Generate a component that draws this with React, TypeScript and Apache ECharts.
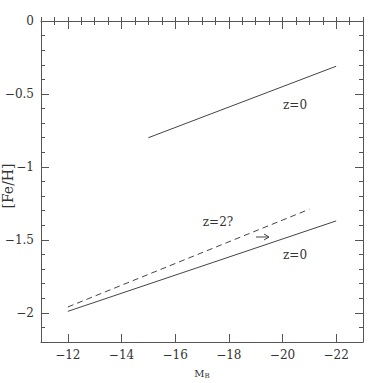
import React, { useEffect, useRef } from "react";
import * as echarts from "echarts";

const xMajor = [-12, -14, -16, -18, -20, -22];
const yMajor = [0, -0.5, -1, -1.5, -2];
const upperZ0 = [[-15, -0.8], [-22, -0.31]];
const lowerZ0 = [[-12, -1.99], [-22, -1.37]];
const z2 = [[-12, -1.96], [-21, -1.29]];

const FONT = "DejaVu Serif";
const AX = "#555";
const LINE = "#444";
const TXT = "#333";
const minus = (v: number) => (v < 0 ? "\u2212" + String(Math.abs(v)) : String(v));

export default function App() {
  const ref = useRef<HTMLDivElement>(null);
  useEffect(() => {
    const chart = echarts.init(ref.current!, null, { renderer: "svg" });
    const grid = { left: 41, right: 20, top: 21, bottom: 41, outerBoundsMode: "none", containLabel: false };
    const xBase = { type: "value", min: -23, max: -11, inverse: true, splitLine: { show: false } };
    const yBase = { type: "value", min: -2.2, max: 0, splitLine: { show: false } };
    chart.setOption({
      animation: false,
      backgroundColor: "#fff",
      grid,
      xAxis: [
        {
          ...xBase,
          position: "bottom",
          axisLine: { show: true, onZero: false, lineStyle: { color: AX, width: 1 } },
          axisTick: { show: true, inside: true, length: 8, customValues: xMajor, lineStyle: { color: AX } },
          axisLabel: { show: true, customValues: xMajor, formatter: (v: number) => minus(v), color: TXT, fontFamily: FONT, fontSize: 12, margin: 7 },
        },
        {
          ...xBase,
          position: "bottom",
          interval: 0.5,
          axisLine: { show: false },
          axisTick: { show: true, inside: true, length: 4, lineStyle: { color: AX } },
          axisLabel: { show: false },
        },
        {
          ...xBase,
          position: "top",
          axisLine: { show: true, onZero: false, lineStyle: { color: AX, width: 1 } },
          axisTick: { show: true, inside: true, length: 8, customValues: xMajor, lineStyle: { color: AX } },
          axisLabel: { show: false },
        },
        {
          ...xBase,
          position: "top",
          interval: 0.5,
          axisLine: { show: false },
          axisTick: { show: true, inside: true, length: 4, lineStyle: { color: AX } },
          axisLabel: { show: false },
        },
      ],
      yAxis: [
        {
          ...yBase,
          position: "left",
          axisLine: { show: true, onZero: false, lineStyle: { color: AX, width: 1 } },
          axisTick: { show: true, inside: true, length: 8, customValues: yMajor, lineStyle: { color: AX } },
          axisLabel: { show: true, customValues: yMajor, formatter: (v: number) => minus(v), color: TXT, fontFamily: FONT, fontSize: 12, margin: 7 },
        },
        {
          ...yBase,
          position: "left",
          interval: 0.1,
          axisLine: { show: false },
          axisTick: { show: true, inside: true, length: 4, lineStyle: { color: AX } },
          axisLabel: { show: false },
        },
        {
          ...yBase,
          position: "right",
          axisLine: { show: true, onZero: false, lineStyle: { color: AX, width: 1 } },
          axisTick: { show: true, inside: true, length: 8, customValues: yMajor, lineStyle: { color: AX } },
          axisLabel: { show: false },
        },
        {
          ...yBase,
          position: "right",
          interval: 0.1,
          axisLine: { show: false },
          axisTick: { show: true, inside: true, length: 4, lineStyle: { color: AX } },
          axisLabel: { show: false },
        },
      ],
      series: [
        { type: "line", data: upperZ0, showSymbol: false, lineStyle: { color: LINE, width: 1 }, silent: true },
        { type: "line", data: lowerZ0, showSymbol: false, lineStyle: { color: LINE, width: 1 }, silent: true },
        { type: "line", data: z2, showSymbol: false, lineStyle: { color: LINE, width: 1, type: [6, 4] }, silent: true },
      ],
      graphic: [
        { type: "text", x: 8, y: 186, rotation: Math.PI / 2, style: { text: "[Fe/H]", font: `14px "${FONT}"`, fill: TXT, align: "center", verticalAlign: "middle" } },
        {
          type: "text", x: 202, y: 373,
          style: {
            text: "{m|M}{s|B}", align: "center", verticalAlign: "middle",
            rich: {
              m: { font: `10px "${FONT}"`, fill: TXT },
              s: { font: `7px "${FONT}"`, fill: TXT, padding: [5, 0, 0, 0] },
            },
          },
        },
        { type: "text", x: 295, y: 105, style: { text: "z=0", font: `12px "${FONT}"`, fill: TXT, align: "center", verticalAlign: "middle" } },
        { type: "text", x: 295, y: 255, style: { text: "z=0", font: `12px "${FONT}"`, fill: TXT, align: "center", verticalAlign: "middle" } },
        { type: "text", x: 218, y: 222, style: { text: "z=2?", font: `12px "${FONT}"`, fill: TXT, align: "center", verticalAlign: "middle" } },
        { type: "line", shape: { x1: 256, y1: 237, x2: 269, y2: 237 }, style: { stroke: "#444", lineWidth: 1 } },
        { type: "polyline", shape: { points: [[264, 234], [269, 237], [264, 240]] }, style: { stroke: "#444", lineWidth: 1, fill: null } },
      ],
    });
    return () => chart.dispose();
  }, []);
  return <div ref={ref} style={{ width: 383, height: 383, position: "absolute", left: 0, top: 0 }} />;
}
